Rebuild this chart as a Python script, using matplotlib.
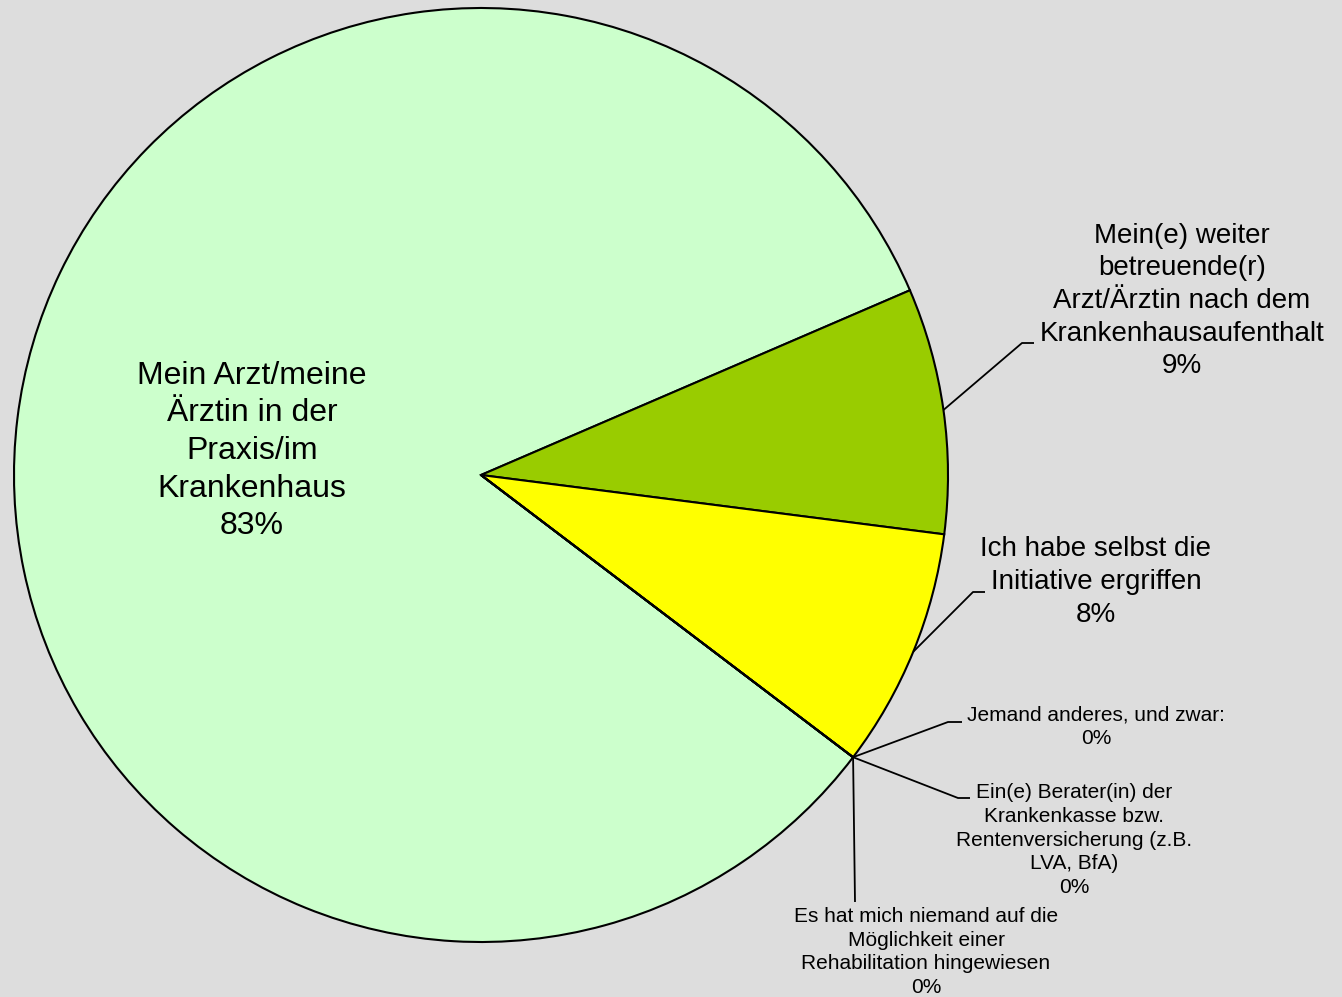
import numpy as np
import matplotlib
matplotlib.use('Agg')
import matplotlib.pyplot as plt

plt.rcParams['font.family'] = ['Liberation Sans', 'DejaVu Sans']

W, H = 1342, 997

labels = [
    "Mein Arzt/meine\nÄrztin in der\nPraxis/im\nKrankenhaus",
    "Mein(e) weiter\nbetreuende(r)\nArzt/Ärztin nach dem\nKrankenhausaufenthalt",
    "Ich habe selbst die\nInitiative ergriffen",
    "Jemand anderes, und zwar:",
    "Ein(e) Berater(in) der\nKrankenkasse bzw.\nRentenversicherung (z.B.\nLVA, BfA)",
    "Es hat mich niemand auf die\nMöglichkeit einer\nRehabilitation hingewiesen",
]
values = [83.2, 8.5, 8.3, 0.0, 0.0, 0.0]
colors = ['#CCFFCC', '#99CC00', '#FFFF00', '#CCFFCC', '#CCFFCC', '#CCFFCC']


def pct(v):
    return "%d%%" % int(np.floor(v + 0.5))


fig = plt.figure(figsize=(W / 100, H / 100), dpi=100)
fig.patch.set_facecolor('#DDDDDD')
ax = fig.add_axes([0, 0, 1, 1])

cx, cy, r = 481, H - 475, 467
# first slice ends at ~23 degrees, going clockwise
start = 23.3 + 360 * values[0] / sum(values)
wedges, _ = ax.pie(values, colors=colors, startangle=start, counterclock=False,
                   center=(cx, cy), radius=r,
                   wedgeprops=dict(edgecolor='black', linewidth=1.5))
ax.set_xlim(0, W)
ax.set_ylim(0, H)
ax.set_axis_off()


def edge(i):
    a = np.deg2rad((wedges[i].theta1 + wedges[i].theta2) / 2)
    return cx + r * np.cos(a), cy + r * np.sin(a)


big = 23
mid = 20
small = 15
ls = 1.33

# label text centres (pixel coords, y downwards) and leader elbows
txt = [
    (252, 451, big, None),
    (1182, 301, mid, [(1022, 343), (1034, 343)]),
    (1096, 582, mid, [(973, 592), (985, 592)]),
    (1096, 727, small, [(948, 722), (962, 722)]),
    (1074, 840, small, [(958, 798), (970, 798)]),
    (926, 952, small, [(855, 902)]),
]

for i, (x, y, fs, elbow) in enumerate(txt):
    ax.text(x, H - y, labels[i] + "\n" + pct(values[i]), ha='center', va='center',
            fontsize=fs, linespacing=ls, color='black')
    if elbow:
        sx, sy = edge(i)
        xs = [sx] + [p[0] for p in elbow]
        ys = [sy] + [H - p[1] for p in elbow]
        ax.plot(xs, ys, color='black', linewidth=1.3, solid_capstyle='butt')

fig.savefig('out.png', dpi=100, facecolor=fig.get_facecolor())
